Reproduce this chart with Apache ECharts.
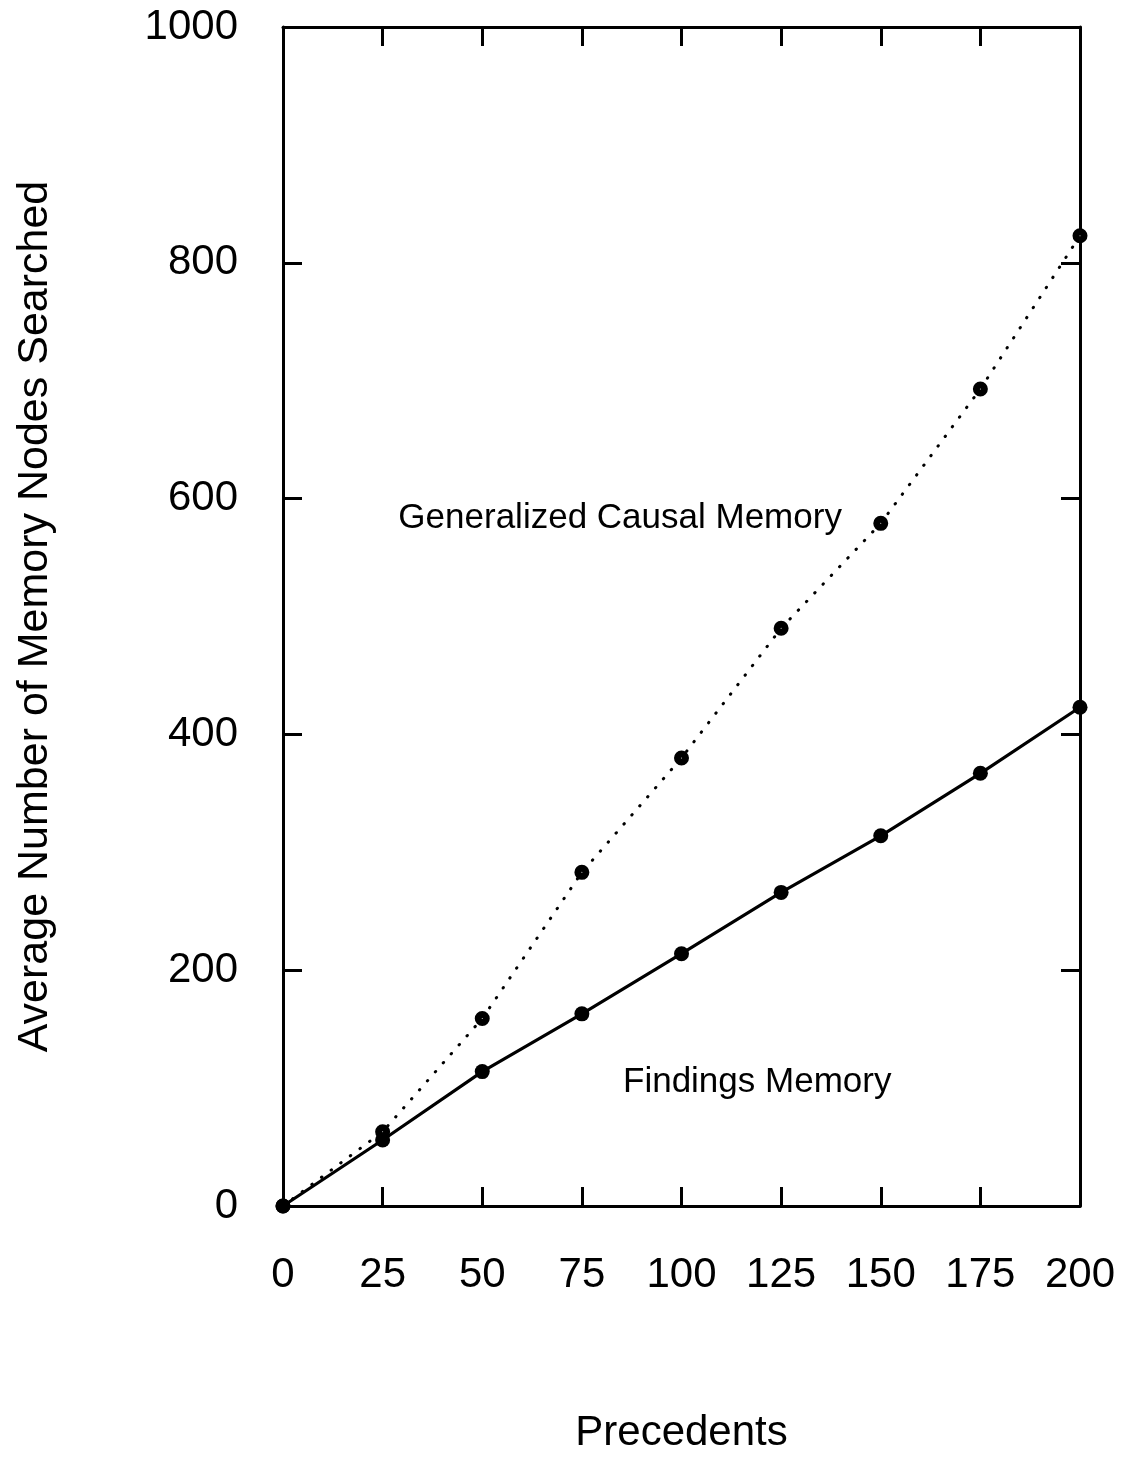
<!DOCTYPE html>
<html>
<head>
<meta charset="utf-8">
<script src="https://cdn.jsdelivr.net/npm/echarts@6/dist/echarts.min.js"></script>
<style>
  html, body { margin: 0; padding: 0; background: #fff; overflow: hidden; }
  #chart { width: 1127px; height: 1459px; }
</style>
</head>
<body>
<div id="chart"></div>
<script>
// Number of precedents in memory
const precedents = [0, 25, 50, 75, 100, 125, 150, 175, 200];
// Average number of memory nodes searched
const causalMemory = [0, 63, 159, 283, 380, 490, 579, 693, 823];
const findingsMemory = [0, 56, 114, 163, 214, 266, 314, 367, 423];

const seriesNames = ['Generalized Causal Memory', 'Findings Memory'];
// Where each curve's caption sits, in data units [precedents, nodes]
const captionAt = [[84.6, 583], [119, 105]];

const FONT = '"Liberation Sans", Arial, sans-serif';
const INK = '#000';

const pairs = (ys) => precedents.map((x, i) => [x, ys[i]]);

const chart = echarts.init(document.getElementById('chart'), null, { renderer: 'canvas' });

// Frame lines sit on the grid edges, never on the zero of the other axis
const axisLine = { show: true, onZero: false, lineStyle: { color: INK, width: 3 } };
const innerTick = { show: true, inside: true, length: 19, lineStyle: { color: INK, width: 3 } };
const plain = (v) => String(v);

chart.setOption({
  backgroundColor: '#fff',
  animation: false,
  grid: { left: 283, top: 27, width: 797, height: 1186, containLabel: false },
  xAxis: [
    {
      type: 'value', min: 0, max: 200, interval: 25, position: 'bottom',
      name: 'Precedents', nameLocation: 'middle', nameGap: 206,
      nameTextStyle: { fontFamily: FONT, fontSize: 42, color: INK },
      axisLine: axisLine,
      axisTick: innerTick,
      axisLabel: { margin: 48, fontFamily: FONT, fontSize: 42, color: INK, formatter: plain },
      splitLine: { show: false }
    },
    {
      type: 'value', min: 0, max: 200, interval: 25, position: 'top',
      axisLine: axisLine,
      axisTick: innerTick,
      axisLabel: { show: false },
      splitLine: { show: false }
    }
  ],
  yAxis: [
    {
      type: 'value', min: 0, max: 1000, interval: 200, position: 'left',
      name: 'Average Number of Memory Nodes Searched', nameLocation: 'middle', nameGap: 226,
      nameTextStyle: { fontFamily: FONT, fontSize: 43, color: INK },
      axisLine: axisLine,
      axisTick: innerTick,
      axisLabel: { margin: 45, fontFamily: FONT, fontSize: 42, color: INK, formatter: plain },
      splitLine: { show: false }
    },
    {
      type: 'value', min: 0, max: 1000, interval: 200, position: 'right',
      axisLine: axisLine,
      axisTick: innerTick,
      axisLabel: { show: false },
      splitLine: { show: false }
    }
  ],
  series: [
    {
      name: seriesNames[0], type: 'line', data: pairs(causalMemory),
      xAxisIndex: 0, yAxisIndex: 0,
      symbol: 'circle', symbolSize: 8,
      itemStyle: { color: '#fff', borderColor: INK, borderWidth: 7 },
      lineStyle: { color: INK, width: 3, type: [0.5, 11.5], cap: 'round' },
      z: 3
    },
    {
      name: seriesNames[1], type: 'line', data: pairs(findingsMemory),
      xAxisIndex: 0, yAxisIndex: 0,
      symbol: 'circle', symbolSize: 15,
      itemStyle: { color: INK },
      lineStyle: { color: INK, width: 3.2 },
      z: 4
    }
  ]
});

// Curve captions, anchored in data coordinates
const captions = seriesNames.map((name, i) => {
  const p = chart.convertToPixel({ gridIndex: 0 }, captionAt[i]);
  return {
    type: 'text', x: p[0], y: p[1], z: 10,
    style: {
      text: name, fontFamily: FONT, fontSize: 35, fill: INK,
      align: 'center', verticalAlign: 'middle'
    }
  };
});
chart.setOption({ graphic: captions });
</script>
</body>
</html>
